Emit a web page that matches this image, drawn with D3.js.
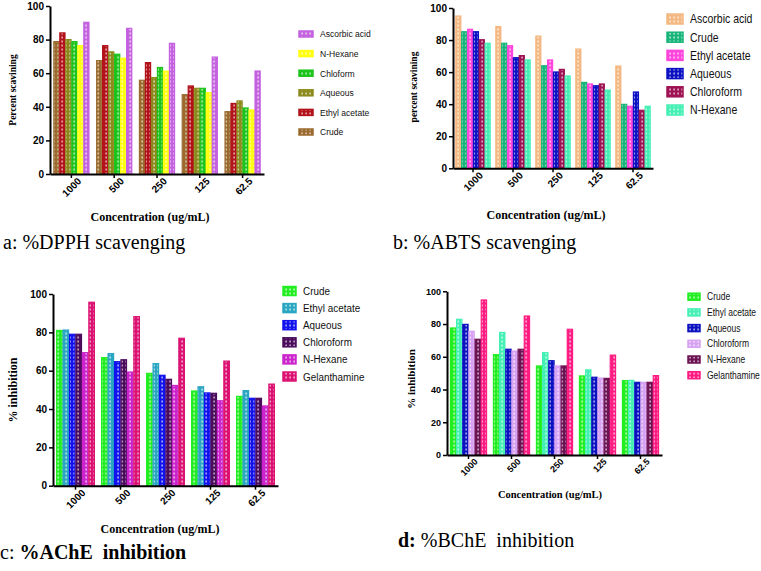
<!DOCTYPE html>
<html>
<head>
<meta charset="utf-8">
<script src="https://cdn.jsdelivr.net/npm/d3@7"></script>
<style>
  body { margin: 0; background: #fff; }
  svg { display: block; }
</style>
</head>
<body>
<svg id="chart" width="761" height="571"></svg>
<script>
// data
var concentrations = ["1000", "500", "250", "125", "62.5"];
var yTicks = [0, 20, 40, 60, 80, 100];

// a: DPPH
var dpphSeries = ["Crude", "Ethyl acetate", "Aqueous", "Chloform", "N-Hexane", "Ascorbic acid"];
var dpphValues = [
  [78.8, 67.5, 55.8, 47.2, 37.1],
  [84.0, 76.4, 66.3, 52.4, 42.0],
  [80.0, 72.7, 57.4, 51.0, 43.5],
  [78.8, 71.3, 63.4, 51.0, 39.3],
  [76.4, 68.9, 61.2, 48.4, 38.1],
  [90.3, 86.7, 77.8, 69.6, 61.3]
];
var dpphColors = ["#9b6a2e", "#b3121a", "#8c8a1c", "#1cc41c", "#ffff10", "#c462e0"];

// b: ABTS
var abtsSeries = ["Ascorbic acid", "Crude", "Ethyl acetate", "Aqueous", "Chloroform", "N-Hexane"];
var abtsValues = [
  [95.0, 88.4, 82.5, 74.4, 63.8],
  [85.2, 78.0, 64.0, 53.6, 39.9],
  [86.7, 76.5, 67.6, 52.6, 38.7],
  [85.2, 69.0, 60.1, 51.5, 47.6],
  [80.2, 70.3, 61.7, 52.6, 36.2],
  [78.0, 67.6, 57.6, 48.8, 38.7]
];
var abtsColors = ["#f4b982", "#17b57a", "#ff46dc", "#0c12c4", "#9e1152", "#44f0b4"];

// c: AChE
var acheSeries = ["Crude", "Ethyl acetate", "Aqueous", "Chloroform", "N-Hexane", "Gelanthamine"];
var acheValues = [
  [81.0, 66.8, 58.6, 49.4, 46.6],
  [81.2, 68.9, 63.7, 51.6, 49.6],
  [79.0, 64.7, 57.6, 48.4, 45.6],
  [79.0, 65.7, 55.5, 48.2, 45.6],
  [69.4, 59.3, 52.3, 44.3, 41.6],
  [95.7, 88.2, 76.9, 65.0, 53.0]
];
var acheColors = ["#22ee22", "#2aa6c2", "#1212ee", "#4c0c5c", "#cc24cc", "#dc1272"];

// d: BChE
var bcheSeries = ["Crude", "Ethyl acetate", "Aqueous", "Chloroform", "N-Hexane", "Gelanthamine"];
var bcheValues = [
  [77.6, 61.3, 54.4, 48.3, 45.4],
  [82.9, 74.9, 62.5, 52.0, 45.6],
  [79.8, 64.6, 57.6, 47.5, 44.4],
  [75.6, 63.5, 54.4, 47.0, 44.4],
  [70.7, 64.6, 54.4, 46.8, 44.4],
  [94.7, 84.9, 76.8, 61.0, 48.5]
];
var bcheColors = ["#22ee22", "#44f0b4", "#0c12c0", "#d8a2f2", "#6c1252", "#ff1c82"];

var svg = d3.select('#chart');
var defs = svg.append('defs');
var patId = 0;

// colored fill with little white dashes, like the original hatch
function makePattern(color) {
  var id = 'p' + (patId++);
  var p = defs.append('pattern')
      .attr('id', id)
      .attr('patternUnits', 'userSpaceOnUse')
      .attr('width', 4).attr('height', 4);
  p.append('rect').attr('width', 4).attr('height', 4).attr('fill', color);
  p.append('rect').attr('x', 1.5).attr('y', 0.5).attr('width', 1.2).attr('height', 2).attr('fill', '#fff').attr('opacity', 0.85);
  return 'url(#' + id + ')';
}

function drawPanel(cfg) {
  var g = svg.append('g');
  var x0 = d3.scaleBand().domain(concentrations).range([cfg.left, cfg.right])
      .paddingInner(cfg.padIn).paddingOuter(cfg.padOut);
  var x1 = d3.scaleBand().domain(d3.range(cfg.series.length)).range([0, x0.bandwidth()]).padding(0.14);
  var y = d3.scaleLinear().domain([0, 100]).range([cfg.bottom, cfg.top]);

  var fills = cfg.colors.map(makePattern);

  cfg.values.forEach(function (vals, si) {
    g.selectAll('rect.s' + si)
      .data(vals)
      .enter()
      .append('rect')
      .attr('x', function (d, i) { return x0(concentrations[i]) + x1(si); })
      .attr('y', function (d) { return y(d); })
      .attr('width', x1.bandwidth())
      .attr('height', function (d) { return y(0) - y(d); })
      .attr('fill', fills[si])
      .attr('stroke', cfg.colors[si])
      .attr('stroke-width', 1.2);
  });

  // axes
  var yAxis = g.append('g').attr('transform', 'translate(' + cfg.left + ',0)')
      .call(d3.axisLeft(y).tickValues(yTicks).tickSize(4).tickSizeOuter(0));
  var xAxis = g.append('g').attr('transform', 'translate(0,' + cfg.bottom + ')')
      .call(d3.axisBottom(x0).tickSize(4).tickSizeOuter(0));
  [yAxis, xAxis].forEach(function (ax) {
    ax.select('.domain').attr('stroke-width', 2);
    ax.selectAll('.tick line').attr('stroke-width', 1.5);
    ax.selectAll('text').attr('font-family', 'Liberation Sans, Arial, sans-serif')
      .attr('font-weight', 'bold').attr('font-size', cfg.tickFont).attr('fill', '#000');
  });
  xAxis.selectAll('.tick text')
      .attr('text-anchor', 'end')
      .attr('dx', '0.2em').attr('dy', '0.9em')
      .attr('transform', 'rotate(-45)')
      .attr('x', 0).attr('y', 4);
  yAxis.selectAll('.tick text').attr('x', -6);

  // axis titles
  g.append('text')
      .attr('transform', 'translate(' + cfg.yTitle[0] + ',' + cfg.yTitle[1] + ') rotate(-90)')
      .attr('text-anchor', 'middle')
      .attr('font-family', 'Liberation Serif, Times New Roman, serif')
      .attr('font-weight', 'bold').attr('font-size', cfg.yTitle[2])
      .attr('dy', '0.35em')
      .text(cfg.yLabel);
  g.append('text')
      .attr('x', cfg.xTitle[0]).attr('y', cfg.xTitle[1])
      .attr('text-anchor', 'middle')
      .attr('font-family', 'Liberation Serif, Times New Roman, serif')
      .attr('font-weight', 'bold').attr('font-size', cfg.xTitle[2])
      .attr('dy', '0.35em')
      .text('Concentration (ug/mL)');

  // legend (text squeezed a little, the original uses a narrow face)
  var lg = g.append('g');
  cfg.legendOrder.forEach(function (si, k) {
    var cy = cfg.legend.y + k * cfg.legend.step;
    lg.append('rect')
      .attr('x', cfg.legend.x).attr('y', cy - cfg.legend.h / 2)
      .attr('width', cfg.legend.w).attr('height', cfg.legend.h)
      .attr('fill', fills[si]).attr('stroke', cfg.colors[si]).attr('stroke-width', 1.5);
    lg.append('text')
      .attr('transform', 'translate(' + cfg.legend.tx + ',' + cy + ') scale(' + cfg.legend.sx + ',1)')
      .attr('dy', '0.35em')
      .attr('font-family', 'Liberation Sans, Arial, sans-serif')
      .attr('font-size', cfg.legend.fs)
      .attr('fill', '#111')
      .text(cfg.series[si]);
  });
}

drawPanel({
  series: dpphSeries, values: dpphValues, colors: dpphColors,
  left: 50, right: 264, top: 6, bottom: 174, padIn: 0.14, padOut: 0.07,
  tickFont: 10, yLabel: 'Percent scavining', yTitle: [13, 90, 9.5], xTitle: [150, 217, 12],
  legendOrder: [5, 4, 3, 2, 1, 0],
  legend: { x: 299, y: 34, step: 19.6, w: 14, h: 6, tx: 320, fs: 9.5, sx: 0.9 }
});

drawPanel({
  series: abtsSeries, values: abtsValues, colors: abtsColors,
  left: 453, right: 653, top: 8, bottom: 168.3, padIn: 0.1, padOut: 0.05,
  tickFont: 10, yLabel: 'percent scavining', yTitle: [414, 87, 9.5], xTitle: [546, 215, 12],
  legendOrder: [0, 1, 2, 3, 4, 5],
  legend: { x: 667, y: 19, step: 18.2, w: 16, h: 10, tx: 690, fs: 12.5, sx: 0.84 }
});

drawPanel({
  series: acheSeries, values: acheValues, colors: acheColors,
  left: 53, right: 278, top: 294, bottom: 485.7, padIn: 0.12, padOut: 0.06,
  tickFont: 10, yLabel: '% inhibition', yTitle: [13, 390, 12], xTitle: [160, 529, 12],
  legendOrder: [0, 1, 2, 3, 4, 5],
  legend: { x: 283, y: 291, step: 17.1, w: 13, h: 9, tx: 303, fs: 11.5, sx: 0.86 }
});

drawPanel({
  series: bcheSeries, values: bcheValues, colors: bcheColors,
  left: 447, right: 662, top: 291.3, bottom: 455, padIn: 0.12, padOut: 0.06,
  tickFont: 9, yLabel: '% inhibition', yTitle: [411, 379, 11], xTitle: [550, 494, 10.5],
  legendOrder: [0, 1, 2, 3, 4, 5],
  legend: { x: 688, y: 296.7, step: 15.7, w: 12, h: 7, tx: 707, fs: 10, sx: 0.85 }
});

// captions
function caption(x, y, parts) {
  var t = svg.append('text').attr('x', x).attr('y', y)
      .attr('font-family', 'Liberation Serif, Times New Roman, serif')
      .attr('font-size', 20).attr('fill', '#000')
      .attr('xml:space', 'preserve');
  parts.forEach(function (p) {
    t.append('tspan').attr('font-weight', p[1] ? 'bold' : 'normal').text(p[0]);
  });
}
caption(3, 249, [['a: %DPPH scavenging', false]]);
caption(393, 249, [['b: %ABTS scavenging', false]]);
caption(0, 559, [['c: ', false], ['%AChE  inhibition', true]]);
caption(398, 547, [['d:', true], [' %BChE  inhibition', false]]);
</script>
</body>
</html>
